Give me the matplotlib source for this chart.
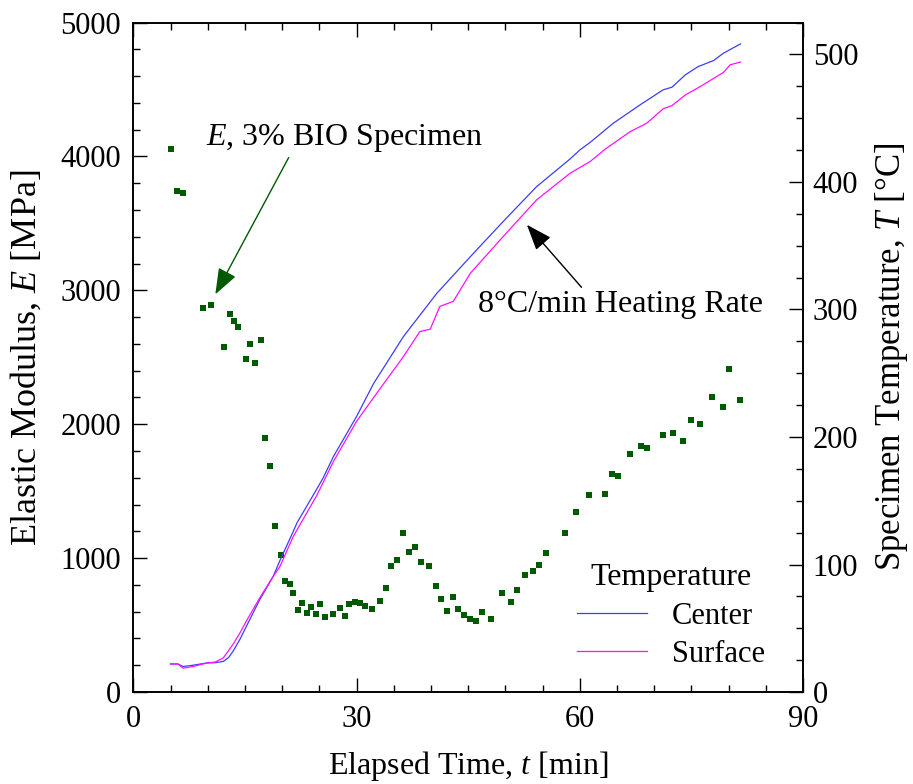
import matplotlib
matplotlib.use('Agg')
import matplotlib.pyplot as plt
from matplotlib.ticker import MultipleLocator

plt.rcParams['font.family'] = ['Liberation Serif', 'DejaVu Serif']
plt.rcParams['mathtext.fontset'] = 'custom'
plt.rcParams['mathtext.rm'] = 'Liberation Serif'
plt.rcParams['mathtext.it'] = 'Liberation Serif:italic'
plt.rcParams['font.size'] = 22

# elastic modulus measurements (3% BIO specimen)
e_time = [5.1, 5.9, 6.7, 9.4, 10.5, 12.2, 13.0, 13.6, 14.1, 15.2, 15.7, 16.3, 17.1,
          17.7, 18.4, 19.1, 19.8, 20.4, 21.0, 21.5, 22.2, 22.7, 23.4, 23.9, 24.6,
          25.1, 25.8, 26.9, 27.8, 28.5, 29.0, 29.8, 30.4, 31.2, 32.1, 33.2, 33.9,
          34.7, 35.5, 36.2, 37.0, 37.8, 38.7, 39.8, 40.7, 41.4, 42.1, 43.0, 43.6,
          44.4, 45.2, 46.0, 46.9, 48.1, 49.5, 50.7, 51.5, 52.6, 53.7, 54.5, 55.4,
          58.0, 59.5, 61.2, 63.4, 64.4, 65.1, 66.8, 68.2, 69.1, 71.2, 72.5, 73.9,
          74.9, 76.1, 77.8, 79.2, 80.1, 81.5]
e_mod = [4057, 3744, 3729, 2871, 2893, 2580, 2826, 2774, 2729, 2490, 2602, 2460, 2632,
         1894, 1686, 1238, 1022, 828, 804, 737, 612, 662, 587, 637, 580,
         657, 557, 580, 625, 565, 654, 674, 662, 640, 617, 677, 774,
         938, 983, 1184, 1043, 1080, 968, 938, 789, 692, 605, 710, 620,
         575, 545, 530, 595, 545, 743, 674, 765, 871, 902, 947, 1040,
         1184, 1341, 1468, 1480, 1625, 1610, 1781, 1834, 1826, 1923, 1938, 1871,
         2035, 1998, 2207, 2125, 2416, 2184]

# specimen temperatures
c_time = [5.0, 6.0, 6.7, 8.0, 9.9, 11.0, 12.1, 12.8, 13.4, 14.3, 15.2, 16.1, 17.0,
          18.8, 19.7, 21.5, 22.0, 24.6, 25.5, 26.9, 30.0, 32.3, 36.3, 40.8, 45.3,
          49.7, 54.2, 58.7, 60.0, 61.4, 64.5, 68.1, 71.2, 72.4, 74.2, 75.9, 78.0,
          79.3, 81.6]
c_temp = [22, 22, 20, 21, 22.8, 23, 24, 27, 31.9, 41, 51.5, 62, 72.5,
          90.7, 103, 126, 132.7, 158.6, 167.7, 184.7, 216, 242, 278.7, 312.7, 341.4,
          368.9, 396.3, 418, 425, 431, 446, 460.4, 472.2, 474.3, 484, 490.4, 495.2,
          500.9, 508.2]

s_time = [5.0, 6.0, 6.7, 8.0, 9.9, 11.0, 12.1, 13.4, 14.3, 15.2, 17.0, 18.8, 19.7,
          21.5, 24.7, 26.9, 30.0, 33.2, 36.3, 38.5, 39.9, 41.2, 43.0, 45.3, 49.7,
          54.2, 58.7, 61.4, 63.4, 66.8, 69.0, 71.2, 72.4, 74.2, 76.2, 79.3, 80.2,
          81.6]
s_temp = [22, 22, 18.7, 20, 22.8, 23.5, 26.8, 37.4, 46, 55.7, 73.9, 90.7, 98.4,
          122, 154.6, 180.8, 212.2, 238.2, 263, 282.6, 284.5, 302.4, 306.3, 328.4, 357.1,
          385.9, 406.8, 416, 425.6, 439.5, 446, 457.3, 459.9, 468.2, 474.8, 485.8, 491.8,
          494]

fig = plt.figure(figsize=(9.13, 7.84), dpi=100)
ax = fig.add_axes([0.146, 0.1173, 0.7335, 0.854])
ax2 = ax.twinx()

ax.plot(e_time, e_mod, 's', color='#005a00', markersize=4.7, markeredgewidth=0)
ax2.plot(c_time, c_temp, color='#3c3cff', lw=0.9, label='Center')
ax2.plot(s_time, s_temp, color='#ff10ff', lw=0.9, label='Surface')

ax.set_xlim(0, 90)
ax.set_ylim(0, 5000)
ax2.set_ylim(0, 525)

ax.xaxis.set_major_locator(MultipleLocator(30))
ax.xaxis.set_minor_locator(MultipleLocator(5))
ax.yaxis.set_major_locator(MultipleLocator(1000))
ax.yaxis.set_minor_locator(MultipleLocator(200))
ax2.yaxis.set_major_locator(MultipleLocator(100))
ax2.yaxis.set_minor_locator(MultipleLocator(25))

ax.tick_params(which='both', direction='in', top=True, right=False, width=1)
ax.tick_params(which='major', length=10, labelsize=22)
ax.tick_params(which='minor', length=5)
ax.tick_params(axis='y', pad=9)
ax.tick_params(axis='x', pad=9)
ax2.tick_params(which='both', direction='in', width=1)
ax2.tick_params(which='major', length=10, labelsize=22, pad=7)
ax2.tick_params(which='minor', length=5)
for a in (ax, ax2):
    for s in a.spines.values():
        s.set_linewidth(1.2)

ax.set_xlabel('Elapsed Time, $t$ [min]', fontsize=23, labelpad=11)
ax.set_ylabel('Elastic Modulus, $E$ [MPa]', fontsize=26, labelpad=12)
ax2.set_ylabel('Specimen Temperature, $T$ [°C]', fontsize=25, labelpad=11)

# annotations
ax.annotate('', xy=(10.85, 2952), xytext=(21.06, 4010),
            arrowprops=dict(arrowstyle='-|>,head_length=0.8,head_width=0.3',
                            mutation_scale=20, color='#005a00', lw=1))
ax.text(9.77, 4085, '$E$, 3% BIO Specimen', fontsize=23, ha='left', va='baseline')
ax.annotate('', xy=(52.65, 3505), xytext=(60.48, 3007),
            arrowprops=dict(arrowstyle='-|>,head_length=0.8,head_width=0.3',
                            mutation_scale=20, color='black', lw=1))
ax.text(46.3, 2840, '8°C/min Heating Rate', fontsize=23, ha='left', va='baseline')

leg = ax2.legend(loc='lower right', bbox_to_anchor=(0.966, 0.012), frameon=False,
                 title='Temperature', fontsize=22, title_fontsize=23,
                 handlelength=2.3, handletextpad=0.8, borderpad=0, labelspacing=0.3)

fig.savefig('out.png', dpi=100)
